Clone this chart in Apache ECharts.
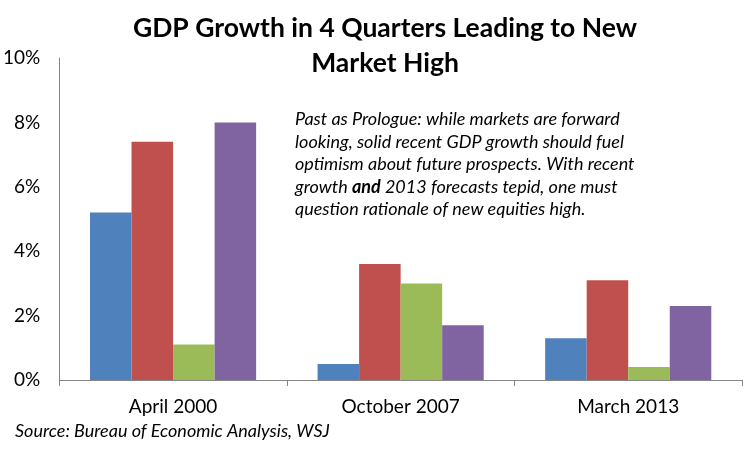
<!DOCTYPE html>
<html>
<head>
<meta charset="utf-8">
<script src="https://cdn.jsdelivr.net/npm/echarts@6/dist/echarts.min.js"></script>
<style>
  html, body { margin: 0; padding: 0; background: #fff; }
  #chart { width: 750px; height: 452px; }
</style>
</head>
<body>
<div id="chart"></div>
<script>
var categories = ['April 2000', 'October 2007', 'March 2013'];
var seriesA = [5.2, 0.5, 1.3];
var seriesB = [7.4, 3.6, 3.1];
var seriesC = [1.1, 3.0, 0.4];
var seriesD = [8.0, 1.7, 2.3];
var yTicks = [0, 2, 4, 6, 8, 10];

var colors = ['#4F81BD', '#C0504D', '#9BBB59', '#8064A2'];
var font = 'Lato, Carlito, Calibri, sans-serif';

var myChart = echarts.init(document.getElementById('chart'));

function bar(data, i) {
    return {
        type: 'bar',
        data: data,
        barGap: 0,
        barCategoryGap: '27%',
        itemStyle: { color: colors[i] }
    };
}

var option = {
    animation: false,
    backgroundColor: '#fff',
    title: {
        text: 'GDP Growth in 4 Quarters Leading to New\nMarket High',
        left: 380,
        textAlign: 'center',
        top: 6,
        textStyle: {
            fontFamily: font,
            fontWeight: 'bold',
            fontSize: 26.5,
            lineHeight: 35,
            color: '#000'
        }
    },
    grid: { left: 59, right: 8, top: 58, bottom: 72 },
    xAxis: {
        type: 'category',
        data: categories,
        axisLine: { lineStyle: { color: '#868686', width: 1 } },
        axisTick: { show: true, length: 6, lineStyle: { color: '#868686' } },
        axisLabel: { fontFamily: font, fontSize: 19, color: '#000', margin: 17 }
    },
    yAxis: {
        type: 'value',
        min: yTicks[0],
        max: yTicks[yTicks.length - 1],
        interval: yTicks[1] - yTicks[0],
        axisLine: { show: true, lineStyle: { color: '#868686', width: 1 } },
        axisTick: { show: false },
        splitLine: { show: false },
        axisLabel: {
            fontFamily: font, fontSize: 19, color: '#000', margin: 19,
            formatter: '{value}%'
        }
    },
    series: [bar(seriesA, 0), bar(seriesB, 1), bar(seriesC, 2), bar(seriesD, 3)],
    graphic: [{
        type: 'text',
        left: 295,
        top: 108,
        style: {
            text: 'Past as Prologue: while markets are forward\nlooking, solid recent GDP growth should fuel\noptimism about future prospects. With recent\ngrowth {b|and} 2013 forecasts tepid, one must\nquestion rationale of new equities high.',
            font: 'italic 18px ' + font,
            lineHeight: 22.5,
            fill: '#000',
            rich: {
                b: { fontFamily: font, fontStyle: 'italic', fontWeight: 'bold', fontSize: 18, lineHeight: 22.5, fill: '#000' }
            }
        }
    }, {
        type: 'text',
        left: 15,
        top: 422,
        style: {
            text: 'Source: Bureau of Economic Analysis, WSJ',
            font: 'italic 18px ' + font,
            fill: '#000'
        }
    }]
};
myChart.setOption(option);
</script>
</body>
</html>
